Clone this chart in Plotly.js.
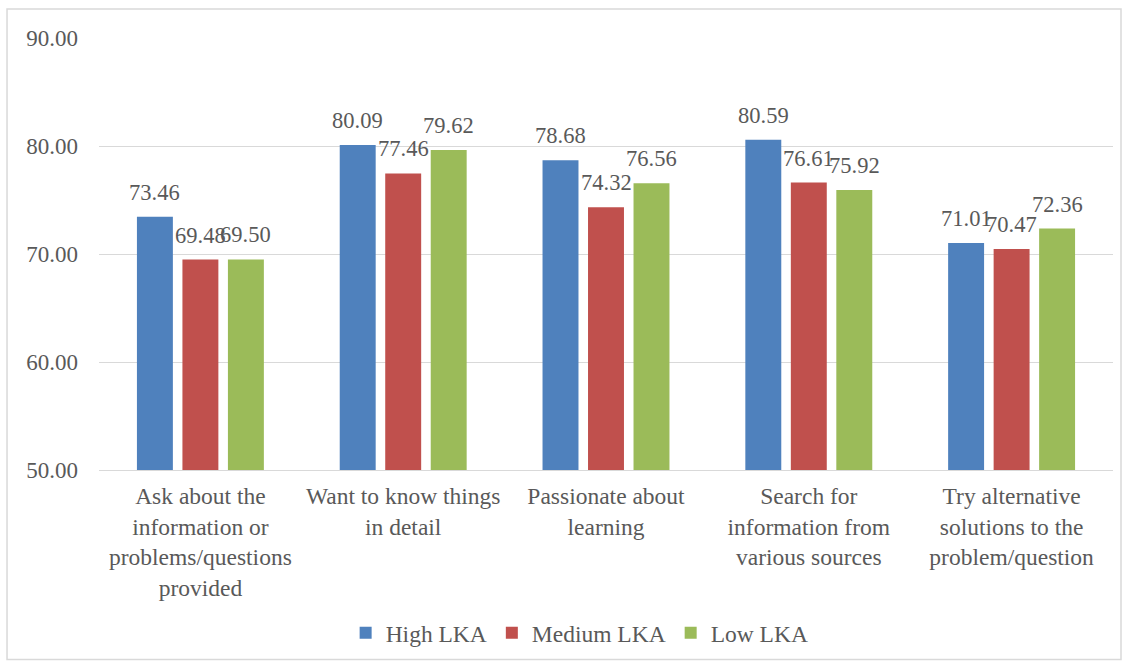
<!DOCTYPE html>
<html>
<head>
<meta charset="utf-8">
<script src="https://cdn.plot.ly/plotly-3.0.1.min.js"></script>
<style>html,body{margin:0;padding:0;background:#fff;}#chart{width:1128px;height:666px;}</style>
</head>
<body>
<div id="chart"></div>
<script>
const categories = [
  "Ask about the<br>information or<br>problems/questions<br>provided",
  "Want to know things<br>in detail",
  "Passionate about<br>learning",
  "Search for<br>information from<br>various sources",
  "Try alternative<br>solutions to the<br>problem/question"
];
const seriesNames = ["High LKA", "Medium LKA", "Low LKA"];
const highLKA = [73.46, 80.09, 78.68, 80.59, 71.01];
const mediumLKA = [69.48, 77.46, 74.32, 76.61, 70.47];
const lowLKA = [69.50, 79.62, 76.56, 75.92, 72.36];
const colors = ["#4F81BD", "#C0504D", "#9BBB59"];

const fam = "'Times New Roman', 'Liberation Serif', Times, serif";
const textColor = "#595959";
const tickFont = {family: fam, size: 23, color: textColor};
const catFont = {family: fam, size: 23.5, color: textColor};
const labelFont = {family: fam, size: 22.5, color: textColor};
const legendFont = {family: fam, size: 23.5, color: textColor};

const allSeries = [highLKA, mediumLKA, lowLKA];
const traces = allSeries.map((vals, i) => ({
  type: "bar",
  name: seriesNames[i],
  x: categories,
  y: vals,
  marker: {color: colors[i]},
  hoverinfo: "none"
}));

// data labels placed over each bar via the axis scale
const slotPx = 45.5;
const annotations = [];
allSeries.forEach((vals, i) => {
  vals.forEach((v, j) => {
    annotations.push({
      x: categories[j], y: v, xref: "x", yref: "y",
      text: v.toFixed(2), showarrow: false,
      xshift: (i - 1) * slotPx, yshift: 10, yanchor: "bottom",
      font: labelFont
    });
  });
});

const layout = {
  width: 1128, height: 666,
  margin: {l: 99, r: 15, t: 38, b: 195},
  paper_bgcolor: "#fff", plot_bgcolor: "#fff",
  font: tickFont,
  barmode: "group",
  bargap: 0.327,
  bargroupgap: 0.21,
  showlegend: true,
  legend: {orientation: "h", x: 0.474, xanchor: "center", y: -0.374, yanchor: "middle", font: legendFont, traceorder: "normal", itemwidth: 30},
  xaxis: {
    showgrid: false, showline: true, linecolor: "#d9d9d9", linewidth: 1,
    ticks: "", tickfont: catFont, ticklabelstandoff: 5, automargin: false
  },
  yaxis: {
    range: [50, 90], dtick: 10, tick0: 50, tickformat: ".2f",
    showgrid: true, gridcolor: "#d9d9d9", gridwidth: 1, zeroline: false,
    showline: false, ticks: "", tickfont: tickFont, ticklabelstandoff: 20, automargin: false
  },
  annotations: annotations,
  shapes: [{
    type: "rect", xref: "paper", yref: "paper",
    x0: -0.0907, x1: 1.0079, y0: -0.4388, y1: 1.067,
    line: {color: "#d9d9d9", width: 1.5}, fillcolor: "rgba(0,0,0,0)", layer: "below"
  }]
};

Plotly.newPlot("chart", traces, layout, {staticPlot: true});
</script>
</body>
</html>
